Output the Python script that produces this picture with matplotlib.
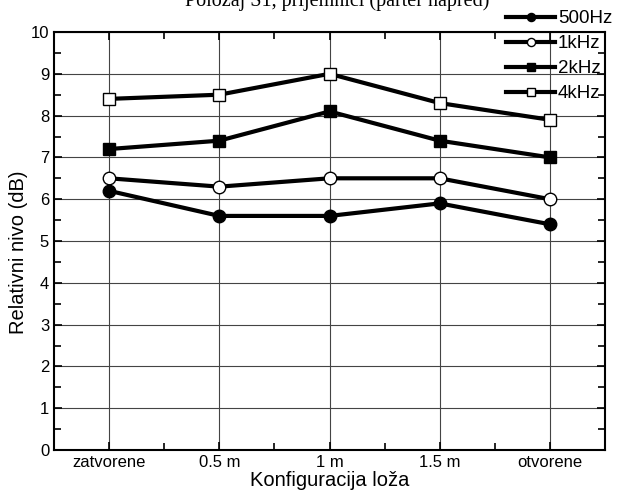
import numpy as np
import matplotlib
matplotlib.use('Agg')
import matplotlib.pyplot as plt
from matplotlib.ticker import MultipleLocator

plt.rcParams['font.family'] = ['Liberation Sans', 'DejaVu Sans']

configs = ['zatvorene', '0.5 m', '1 m', '1.5 m', 'otvorene']
series = ['500Hz', '1kHz', '2kHz', '4kHz']
v500 = [6.2, 5.6, 5.6, 5.9, 5.4]
v1k = [6.5, 6.3, 6.5, 6.5, 6.0]
v2k = [7.2, 7.4, 8.1, 7.4, 7.0]
v4k = [8.4, 8.5, 9.0, 8.3, 7.9]

markers = [('o', 'black'), ('o', 'white'), ('s', 'black'), ('s', 'white')]

fig = plt.figure(figsize=(6.19, 4.97), dpi=100)
ax = fig.add_axes([54 / 619, 1 - 450 / 497, 551 / 619, 418 / 497])

x = np.arange(len(configs))
for vals, name, (m, fc) in zip([v500, v1k, v2k, v4k], series, markers):
    ax.plot(x, vals, color='black', lw=3, marker=m, markersize=9,
            markerfacecolor=fc, markeredgecolor='black', markeredgewidth=1,
            label=name, zorder=3)

ax.set_xlim(-0.5, 4.5)
ax.set_ylim(0, 10)
ax.set_xticks(x, configs)
ax.set_xticks(x[:-1] + 0.5, minor=True)
ax.yaxis.set_major_locator(MultipleLocator(1))
ax.yaxis.set_minor_locator(MultipleLocator(0.5))
ax.grid(True, which='major', color='#444444', lw=0.8)
ax.set_axisbelow(True)
ax.tick_params(which='both', direction='in', right=True, top=True, labelsize=12)
ax.tick_params(which='major', length=6, width=1.2)
ax.tick_params(which='minor', length=5, width=1.2)
for s in ax.spines.values():
    s.set_linewidth(1.5)

ax.set_xlabel('Konfiguracija loža', fontsize=14.5, labelpad=1)
ax.set_ylabel('Relativni nivo (dB)', fontsize=14.5)
ax.yaxis.set_label_coords(-0.048, 0.474)

fig.text(0.545, 0.998, 'Položaj S1, prijemnici (parter napred)', ha='center', va='center',
         fontsize=14.5, family='Liberation Serif')

fig.legend(loc='upper right', bbox_to_anchor=(1.01, 1.006), frameon=False,
           fontsize=13.5, handlelength=2.6, handletextpad=0.15, labelspacing=0.42,
           borderpad=0.2, markerscale=0.65)

fig.savefig('out.png', dpi=100)
